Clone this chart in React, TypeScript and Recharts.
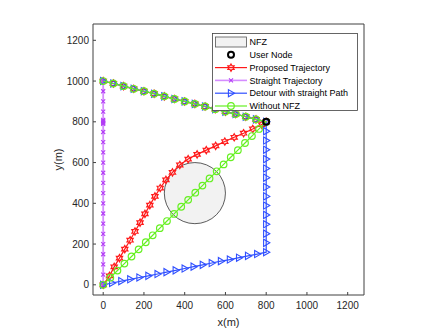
import { ScatterChart, Scatter, XAxis, YAxis, ReferenceArea, Label } from "recharts";

const W = 443;
const H = 332;

const axisDomain: [number, number] = [-50, 1280];
const xTicks = [0, 200, 400, 600, 800, 1000, 1200];
const yTicks = [0, 200, 400, 600, 800, 1000, 1200];

// no-fly zone bounding box (circle centre 450,450 r 150)
const nfzX = [300, 600];
const nfzY = [300, 600];

const userNodeX = [800];
const userNodeY = [800];

// leg from the user node back to the end point, shared by three trajectories
const returnX = [800, 750, 700, 650, 600, 550, 500, 450, 400, 350, 300, 250, 200, 150, 100, 50, 0];
const returnY = [800, 812, 825, 838, 850, 862, 875, 888, 900, 912, 925, 938, 950, 962, 975, 988, 1000];

const proposedX = [0, 31, 54, 80, 106, 132, 156, 181, 205, 229, 254, 280, 308, 340, 376, 417, 461, 506, 552, 597, 643, 689, 734, 778];
const proposedY = [0, 44, 88, 131, 175, 219, 262, 305, 348, 391, 434, 475, 515, 552, 588, 617, 640, 661, 682, 703, 724, 744, 765, 786];

const straightX = [0, 0, 0, 0, 0, 0, 0, 0, 0, 0, 0, 0, 0, 0, 0, 0, 0, 0, 0, 0, 0, 0, 0, 0, 0];
const straightY = [0, 50, 100, 150, 200, 250, 300, 350, 400, 450, 500, 550, 600, 650, 700, 750, 790, 795, 800, 805, 810, 850, 900, 950, 1000];

const detourX = [0, 44, 89, 133, 178, 222, 267, 311, 356, 400, 444, 489, 533, 578, 622, 667, 711, 756, 800, 800, 800, 800, 800, 800, 800, 800, 800, 800, 800, 800, 800, 800, 800];
const detourY = [0, 9, 18, 27, 36, 44, 53, 62, 71, 80, 89, 98, 107, 116, 124, 133, 142, 151, 160, 206, 251, 297, 343, 389, 434, 480, 526, 571, 617, 663, 708, 754, 800];

const directX = [0, 35, 70, 104, 139, 174, 209, 243, 278, 313, 348, 383, 417, 452, 487, 522, 557, 591, 626, 661, 696, 730, 765];
const directY = [0, 35, 70, 104, 139, 174, 209, 243, 278, 313, 348, 383, 417, 452, 487, 522, 557, 591, 626, 661, 696, 730, 765];

const RED = "#ff1a1a";
const PURPLE_LINE = "#d58cff";
const PURPLE = "#b23cf5";
const BLUE = "#3050ff";
const GREEN = "#66f022";
const AXIS = "#404040";
const FONT = "'Liberation Sans', Arial, sans-serif";

const pts = (xs: number[], ys: number[]) => xs.map((x, i) => ({ x, y: ys[i] }));

const proposedData = [...pts(proposedX, proposedY), ...pts(returnX, returnY)];
const straightData = pts(straightX, straightY);
const detourData = [...pts(detourX, detourY), ...pts(returnX.slice(1), returnY.slice(1))];
const directData = [...pts(directX, directY), ...pts(returnX, returnY)];
const userData = pts(userNodeX, userNodeY);

function hexagram(cx: number, cy: number, r: number) {
    const out: string[] = [];
    for (let k = 0; k < 12; k++) {
        const a = (Math.PI / 6) * k - Math.PI / 2;
        const rr = k % 2 === 0 ? r : r / Math.sqrt(3);
        out.push(`${cx + rr * Math.cos(a)},${cy + rr * Math.sin(a)}`);
    }
    return out.join(" ");
}

const HexMark = (p: any) => (
    <polygon points={hexagram(p.cx, p.cy, 3.6)} fill="none" stroke={RED} strokeWidth={1.2} />
);
const CrossMark = (p: any) => (
    <g stroke={PURPLE} strokeWidth={1.1}>
        <line x1={p.cx - 2} y1={p.cy - 2} x2={p.cx + 2} y2={p.cy + 2} />
        <line x1={p.cx - 2} y1={p.cy + 2} x2={p.cx + 2} y2={p.cy - 2} />
    </g>
);
const TriMark = (p: any) => (
    <polygon
        points={`${p.cx + 3.6},${p.cy} ${p.cx - 2.6},${p.cy - 3.6} ${p.cx - 2.6},${p.cy + 3.6}`}
        fill="none"
        stroke={BLUE}
        strokeWidth={1.1}
    />
);
const CircleMark = (p: any) => (
    <circle cx={p.cx} cy={p.cy} r={3.3} fill="none" stroke={GREEN} strokeWidth={1.2} />
);
const UserMark = (p: any) => (
    <circle cx={p.cx} cy={p.cy} r={3} fill="none" stroke="#000" strokeWidth={2} />
);

const legendRows = [
    { label: "NFZ", kind: "nfz" },
    { label: "User Node", kind: "user" },
    { label: "Proposed Trajectory", kind: "proposed" },
    { label: "Straight Trajectory", kind: "straight" },
    { label: "Detour with straight Path", kind: "detour" },
    { label: "Without NFZ", kind: "direct" },
];

function LegendBox() {
    return (
        <svg width={146} height={78} style={{ display: "block" }}>
            <rect x={0.5} y={0.5} width={145} height={77} fill="#fff" stroke={AXIS} strokeWidth={0.8} />
            {legendRows.map((r, i) => {
                const cy = 9 + i * 12.8;
                const cx = 19;
                let mark = null;
                if (r.kind === "nfz") {
                    mark = <rect x={3.5} y={cy - 5} width={31} height={10} fill="#f2f2f2" stroke="#555" strokeWidth={0.8} />;
                } else if (r.kind === "user") {
                    mark = <UserMark cx={cx} cy={cy} />;
                } else {
                    const stroke =
                        r.kind === "proposed" ? RED : r.kind === "straight" ? PURPLE_LINE : r.kind === "detour" ? BLUE : GREEN;
                    const M =
                        r.kind === "proposed" ? HexMark : r.kind === "straight" ? CrossMark : r.kind === "detour" ? TriMark : CircleMark;
                    mark = (
                        <g>
                            <line x1={3} y1={cy} x2={35} y2={cy} stroke={stroke} strokeWidth={r.kind === "straight" ? 1.6 : 1.2} />
                            <M cx={cx} cy={cy} />
                        </g>
                    );
                }
                return (
                    <g key={r.label}>
                        {mark}
                        <text x={37.5} y={cy + 3.2} fontSize={9} fontFamily={FONT} fill="#000">
                            {r.label}
                        </text>
                    </g>
                );
            })}
        </svg>
    );
}

export default function App() {
    return (
        <div style={{ position: "absolute", left: 0, top: 0, width: W, height: H, background: "#fff" }}>
            <ScatterChart width={W} height={H} margin={{ top: 23, right: 78, bottom: 0, left: 0 }}>
                <XAxis
                    type="number"
                    dataKey="x"
                    domain={axisDomain}
                    ticks={xTicks}
                    allowDataOverflow
                    height={37}
                    stroke={AXIS}
                    tickSize={-3}
                    tickMargin={10}
                    tick={{ fill: "#262626", fontSize: 10, fontFamily: FONT }}
                >
                    <Label value="x(m)" position="center" dy={9} fill="#262626" fontSize={11} fontFamily={FONT} />
                </XAxis>
                <YAxis
                    type="number"
                    dataKey="y"
                    domain={axisDomain}
                    ticks={yTicks}
                    allowDataOverflow
                    width={93}
                    stroke={AXIS}
                    tickSize={-3}
                    tickMargin={7}
                    tick={{ fill: "#262626", fontSize: 10, fontFamily: FONT }}
                >
                    <Label value="y(m)" position="center" angle={-90} dx={11.5} fill="#262626" fontSize={11} fontFamily={FONT} />
                </YAxis>
                <XAxis
                    xAxisId="top"
                    orientation="top"
                    type="number"
                    domain={axisDomain}
                    ticks={xTicks}
                    allowDataOverflow
                    height={1}
                    stroke={AXIS}
                    tickSize={-3}
                    tick={false}
                />
                <YAxis
                    yAxisId="right"
                    orientation="right"
                    type="number"
                    domain={axisDomain}
                    ticks={yTicks}
                    allowDataOverflow
                    width={1}
                    stroke={AXIS}
                    tickSize={-3}
                    tick={false}
                />
                <ReferenceArea
                    x1={nfzX[0]}
                    x2={nfzX[1]}
                    y1={nfzY[0]}
                    y2={nfzY[1]}
                    shape={(p: any) => (
                        <ellipse
                            cx={p.x + p.width / 2}
                            cy={p.y + p.height / 2}
                            rx={Math.abs(p.width) / 2}
                            ry={Math.abs(p.height) / 2}
                            fill="#f2f2f2"
                            stroke="#333"
                            strokeWidth={0.8}
                        />
                    )}
                />
                <Scatter
                    name="Proposed Trajectory"
                    data={proposedData}
                    line={{ stroke: RED, strokeWidth: 1.2 }}
                    lineType="joint"
                    shape={HexMark}
                    isAnimationActive={false}
                />
                <Scatter
                    name="Straight Trajectory"
                    data={straightData}
                    line={{ stroke: PURPLE_LINE, strokeWidth: 1.8 }}
                    lineType="joint"
                    shape={CrossMark}
                    isAnimationActive={false}
                />
                <Scatter
                    name="Detour with straight Path"
                    data={detourData}
                    line={{ stroke: BLUE, strokeWidth: 1.2 }}
                    lineType="joint"
                    shape={TriMark}
                    isAnimationActive={false}
                />
                <Scatter
                    name="Without NFZ"
                    data={directData}
                    line={{ stroke: GREEN, strokeWidth: 1.2 }}
                    lineType="joint"
                    shape={CircleMark}
                    isAnimationActive={false}
                />
                <Scatter name="User Node" data={userData} shape={UserMark} isAnimationActive={false} />
            </ScatterChart>
            <div style={{ position: "absolute", left: 212, top: 33 }}>
                <LegendBox />
            </div>
        </div>
    );
}
